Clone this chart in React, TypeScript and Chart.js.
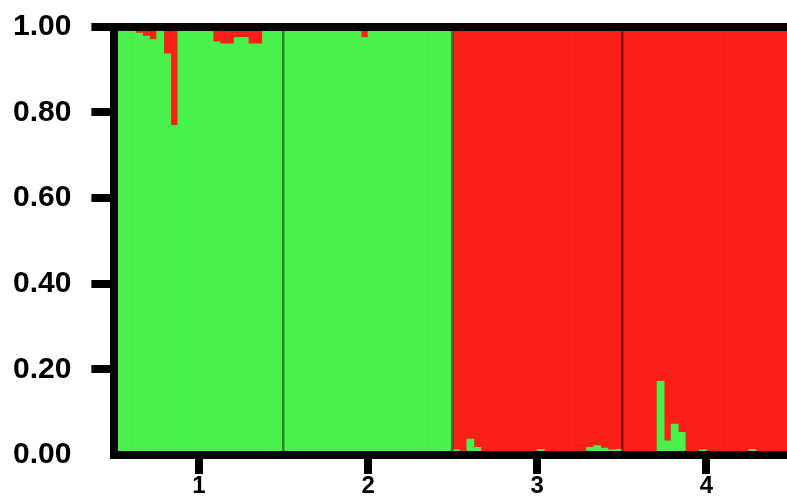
import React, { useEffect, useRef } from "react";
import { Chart, registerables } from "chart.js";

Chart.register(...registerables);

// Population labels (x axis)
const groupLabels = ["1", "2", "3", "4"];
// Y axis tick values
const yTickValues = [0, 0.2, 0.4, 0.6, 0.8, 1.0];

// Membership coefficients per individual (24 individuals per population)
// Populations 1 & 2: share of the red cluster (rest is green)
const pop1Red = [0, 0, 0, 0.015, 0.022, 0.03, 0, 0.063, 0.23, 0, 0, 0, 0, 0, 0.035, 0.04, 0.04, 0.025, 0.025, 0.04, 0.04, 0.01, 0, 0];
const pop2Red = [0, 0, 0, 0, 0, 0, 0, 0, 0, 0, 0, 0.025, 0, 0, 0, 0, 0, 0, 0, 0, 0, 0, 0, 0];
// Populations 3 & 4: share of the green cluster (rest is red)
const pop3Green = [0.012, 0, 0.037, 0.018, 0, 0, 0, 0, 0, 0, 0, 0, 0.013, 0, 0, 0, 0, 0, 0, 0.018, 0.022, 0.016, 0.012, 0.013];
const pop4Green = [0, 0, 0, 0, 0, 0.172, 0.033, 0.072, 0.053, 0, 0, 0.012, 0, 0, 0, 0, 0, 0, 0.013, 0, 0, 0, 0, 0];

const GREEN = "#48F24B";
const RED = "#FA2018";

export default function App() {
  const ref = useRef<HTMLCanvasElement | null>(null);

  useEffect(() => {
    if (!ref.current) return;
    const greenVals: number[] = [];
    const redVals: number[] = [];
    const ids: string[] = [];
    const push = (g: number, r: number, id: string) => {
      greenVals.push(g);
      redVals.push(r);
      ids.push(id);
    };
    pop1Red.forEach((r, i) => push(1 - r, r, "1-" + (i + 1)));
    pop2Red.forEach((r, i) => push(1 - r, r, "2-" + (i + 1)));
    pop3Green.forEach((g, i) => push(g, 1 - g, "3-" + (i + 1)));
    pop4Green.forEach((g, i) => push(g, 1 - g, "4-" + (i + 1)));

    const nGroups = groupLabels.length;
    const groupTicks: number[] = [];
    for (let i = 0; i < nGroups; i++) {
      groupTicks.push(i + 0.5);
      if (i < nGroups - 1) groupTicks.push(i + 1);
    }

    const chart = new Chart(ref.current, {
      type: "bar",
      data: {
        labels: ids,
        datasets: [
          { label: "Cluster 1", data: greenVals, backgroundColor: GREEN, borderWidth: 0, barPercentage: 1, categoryPercentage: 1 },
          { label: "Cluster 2", data: redVals, backgroundColor: RED, borderWidth: 0, barPercentage: 1, categoryPercentage: 1 },
        ],
      },
      options: {
        responsive: false,
        animation: false,
        devicePixelRatio: 1,
        layout: { padding: { left: 0, top: 0, right: 0, bottom: 0 } },
        plugins: { legend: { display: false }, tooltip: { enabled: false } },
        scales: {
          x: { type: "category", stacked: true, display: false, offset: true },
          xg: {
            type: "linear",
            position: "bottom",
            min: 0,
            max: nGroups,
            offset: false,
            afterBuildTicks: (axis: any) => {
              axis.ticks = groupTicks.map((v) => ({ value: v }));
            },
            border: { display: true, width: 8, color: "#000", z: 2 },
            grid: {
              z: 1,
              offset: false,
              drawOnChartArea: true,
              drawTicks: true,
              tickLength: 19,
              color: (ctx: any) => (Number.isInteger(ctx.tick?.value) ? "rgba(0,0,0,0.45)" : "rgba(0,0,0,0)"),
              lineWidth: (ctx: any) => (Number.isInteger(ctx.tick?.value) ? 2.5 : 0),
              tickColor: (ctx: any) => (Number.isInteger(ctx.tick?.value) ? "rgba(0,0,0,0)" : "#000"),
              tickWidth: 8,
            },
            ticks: {
              autoSkip: false,
              maxRotation: 0,
              padding: 0,
              color: "#000",
              font: { family: "'Liberation Sans', Arial, sans-serif", size: 24, weight: "bold", lineHeight: 1 },
              callback: (v: any) => {
                const n = Number(v);
                return Number.isInteger(n) ? "" : groupLabels[Math.floor(n)];
              },
            },
          },
          y: {
            stacked: true,
            min: 0,
            max: 1,
            afterBuildTicks: (axis: any) => {
              axis.ticks = yTickValues.map((v) => ({ value: v }));
            },
            border: { display: true, width: 8, color: "#000", z: 2 },
            grid: {
              z: 2,
              drawOnChartArea: true,
              drawTicks: true,
              tickLength: 23,
              color: (ctx: any) => (ctx.tick?.value === 1 ? "#000" : "rgba(0,0,0,0)"),
              lineWidth: (ctx: any) => (ctx.tick?.value === 1 ? 8 : 0),
              tickColor: (ctx: any) => (ctx.tick?.value === 0 ? "rgba(0,0,0,0)" : "#000"),
              tickWidth: 8,
            },
            ticks: {
              padding: 20,
              color: "#000",
              font: { family: "'Liberation Sans', Arial, sans-serif", size: 30, weight: "bold", lineHeight: 0.45 },
              callback: (v: any) => Number(v).toFixed(2),
            },
          },
        },
      },
    });
    return () => chart.destroy();
  }, []);

  return (
    <div style={{ position: "fixed", left: 0, top: 0, width: 787, height: 498, overflow: "hidden", background: "#fff" }}>
      <canvas ref={ref} width={798} height={498} style={{ display: "block", position: "absolute", left: -7, top: 0 }} />
    </div>
  );
}
